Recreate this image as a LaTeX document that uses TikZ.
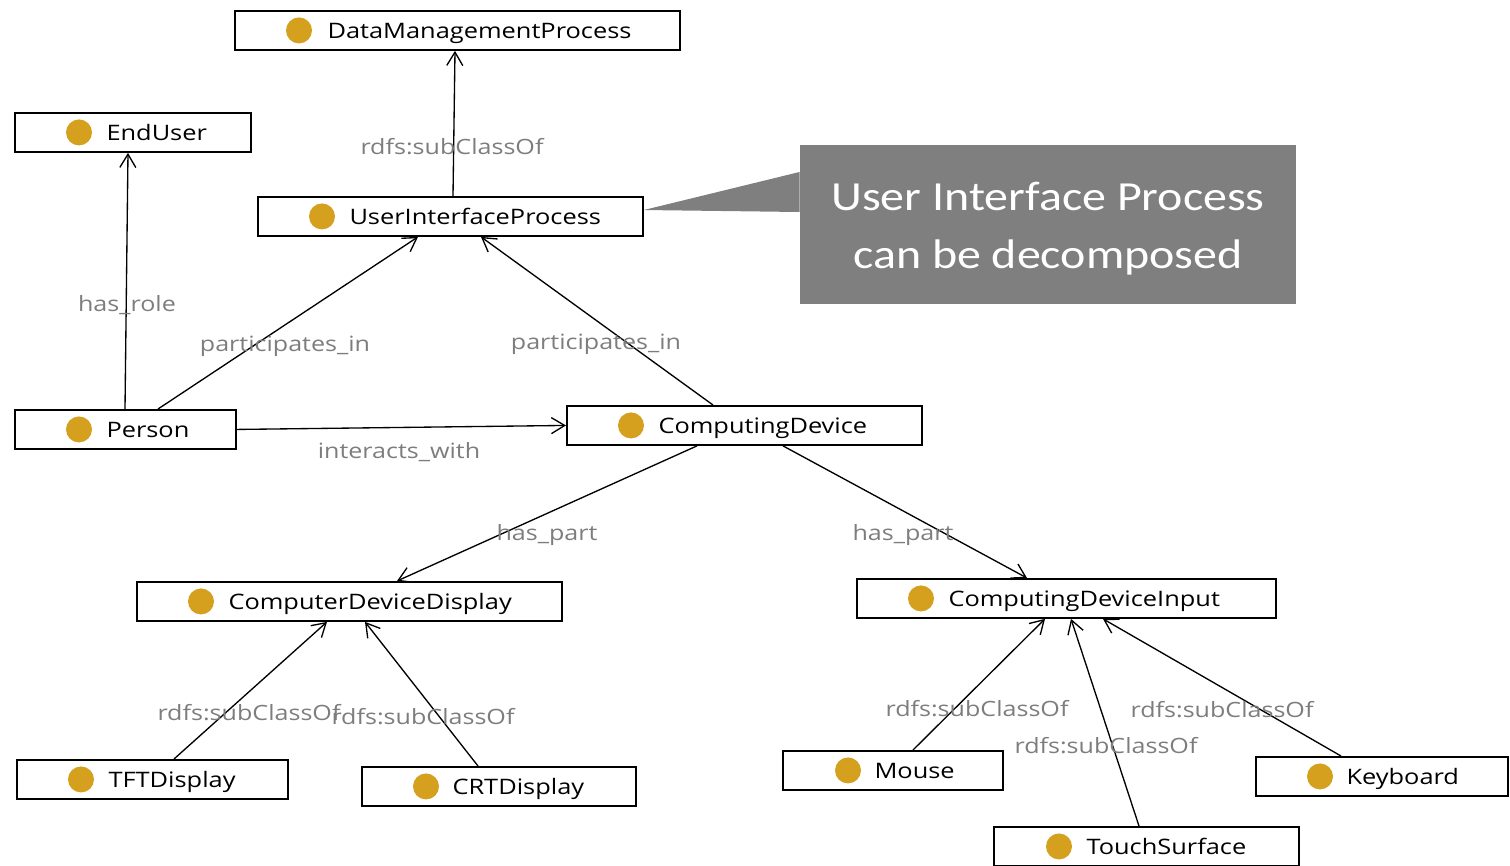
\documentclass[tikz,border=0pt]{standalone}
\usepackage{fontspec}
\setmainfont[FakeStretch=1.19]{Open Sans}
\newfontfamily\notefont[FakeStretch=1.16]{Carlito}
\usetikzlibrary{arrows.meta}

\definecolor{dotc}{RGB}{212,160,30}
\definecolor{labc}{RGB}{125,125,125}
\definecolor{notec}{RGB}{127,127,127}

\tikzset{every picture/.style={line width=0.75pt}}
\tikzset{
	clsbox/.style={draw, line width=1.4pt, anchor=north west, minimum height=29.25pt, inner sep=0pt},
	boxw/.style={minimum width=#1*0.75pt},
	dotmark/.style={circle, fill=dotc, minimum size=19.5pt, inner sep=0pt},
	clstext/.style={anchor=west, inner sep=0pt, text height=12pt, text depth=0pt, font=\fontsize{16}{19}\selectfont},
	elab/.style={text=labc, inner sep=0pt, font=\fontsize{15.8}{18}\selectfont},
	rel/.style={line width=1pt, -{Straight Barb[length=10pt, width=12pt, line width=1pt]}}
}

\begin{document}
\begin{tikzpicture}[x=0.75pt,y=0.75pt,yscale=-1,xscale=1]
	\useasboundingbox (0,0) rectangle (1510,865);
	
	% Class Nodes
	\node [clsbox, boxw=445] (dmp) at (234,10) {};
	\node [dotmark] (dmpdot) at (299,0 |- dmp.west) {};
	\node [clstext] (dmptxt) at (327,0 |- dmp.west) {DataManagementProcess};
	
	\node [clsbox, boxw=236] (endu) at (14,112) {};
	\node [dotmark] (endudot) at (79,0 |- endu.west) {};
	\node [clstext] (endutxt) at (106,0 |- endu.west) {EndUser};
	
	\node [clsbox, boxw=385] (uip) at (257,196) {};
	\node [dotmark] (uipdot) at (322,0 |- uip.west) {};
	\node [clstext] (uiptxt) at (349,0 |- uip.west) {UserInterfaceProcess};
	
	\node [clsbox, boxw=221] (pers) at (14,409) {};
	\node [dotmark] (persdot) at (79,0 |- pers.west) {};
	\node [clstext] (perstxt) at (106,0 |- pers.west) {Person};
	
	\node [clsbox, boxw=355] (cdev) at (566,405) {};
	\node [dotmark] (cdevdot) at (631,0 |- cdev.west) {};
	\node [clstext] (cdevtxt) at (658,0 |- cdev.west) {ComputingDevice};
	
	\node [clsbox, boxw=425] (cdd) at (136,581) {};
	\node [dotmark] (cdddot) at (201,0 |- cdd.west) {};
	\node [clstext] (cddtxt) at (228,0 |- cdd.west) {ComputerDeviceDisplay};
	
	\node [clsbox, boxw=419] (cdi) at (856,578) {};
	\node [dotmark] (cdidot) at (921,0 |- cdi.west) {};
	\node [clstext] (cditxt) at (948,0 |- cdi.west) {ComputingDeviceInput};
	
	\node [clsbox, boxw=271] (tft) at (16,759) {};
	\node [dotmark] (tftdot) at (81,0 |- tft.west) {};
	\node [clstext] (tfttxt) at (108,0 |- tft.west) {TFTDisplay};
	
	\node [clsbox, boxw=274] (crt) at (361,766) {};
	\node [dotmark] (crtdot) at (426,0 |- crt.west) {};
	\node [clstext] (crttxt) at (452,0 |- crt.west) {CRTDisplay};
	
	\node [clsbox, boxw=220] (mouse) at (782,750) {};
	\node [dotmark] (mousedot) at (848,0 |- mouse.west) {};
	\node [clstext] (mousetxt) at (874,0 |- mouse.west) {Mouse};
	
	\node [clsbox, boxw=305] (touch) at (993,826) {};
	\node [dotmark] (touchdot) at (1059,0 |- touch.west) {};
	\node [clstext] (touchtxt) at (1086,0 |- touch.west) {TouchSurface};
	
	\node [clsbox, boxw=252] (keyb) at (1255,756) {};
	\node [dotmark] (keybdot) at (1320,0 |- keyb.west) {};
	\node [clstext] (keybtxt) at (1346,0 |- keyb.west) {Keyboard};
	
	% Relations
	\draw [rel] (453,0 |- uip.north) -- (455,0 |- dmp.south);
	\draw [rel] (125,0 |- pers.north) -- (128,0 |- endu.south);
	\draw [rel] (158,0 |- pers.north) -- (418,0 |- uip.south);
	\draw [rel] (713,0 |- cdev.north) -- (481,0 |- uip.south);
	\draw [rel] (pers.east) -- (cdev.west);
	\draw [rel] (697,0 |- cdev.south) -- (397,0 |- cdd.north);
	\draw [rel] (783,0 |- cdev.south) -- (1027,0 |- cdi.north);
	\draw [rel] (174,0 |- tft.north) -- (327,0 |- cdd.south);
	\draw [rel] (478,0 |- crt.north) -- (365,0 |- cdd.south);
	\draw [rel] (913,0 |- mouse.north) -- (1045,0 |- cdi.south);
	\draw [rel] (1139,0 |- touch.north) -- (1071,0 |- cdi.south);
	\draw [rel] (1341,0 |- keyb.north) -- (1103,0 |- cdi.south);
	
	% Relation labels
	\node [elab] (l1) at (452,147) {rdfs:subClassOf};
	\node [elab] (l2) at (127,305) {has\_role};
	\node [elab] (l3) at (285,346) {participates\_in};
	\node [elab] (l4) at (596,344) {participates\_in};
	\node [elab] (l5) at (399,452) {interacts\_with};
	\node [elab] (l6) at (547,535) {has\_part};
	\node [elab] (l7) at (903,535) {has\_part};
	\node [elab] (l8) at (249,713) {rdfs:subClassOf};
	\node [elab] (l9) at (423,717) {rdfs:subClassOf};
	\node [elab] (l10) at (977,709) {rdfs:subClassOf};
	\node [elab] (l11) at (1106,746) {rdfs:subClassOf};
	\node [elab] (l12) at (1222,710) {rdfs:subClassOf};
	
	% Callout
	\node [fill=notec, minimum width=372pt, minimum height=119.25pt, inner sep=0pt] (note) at (1048,224.5) {};
	\fill [notec] (note.west |- 0,172) -- (uip.east |- 0,210) -- (note.west |- 0,212) -- cycle;
	\node [text=white, inner sep=0pt, align=center, font=\notefont\fontsize{31}{43.5}\selectfont] (notetxt) at (1048,229) {User Interface Process\\can be decomposed};
	
\end{tikzpicture}
\end{document}
